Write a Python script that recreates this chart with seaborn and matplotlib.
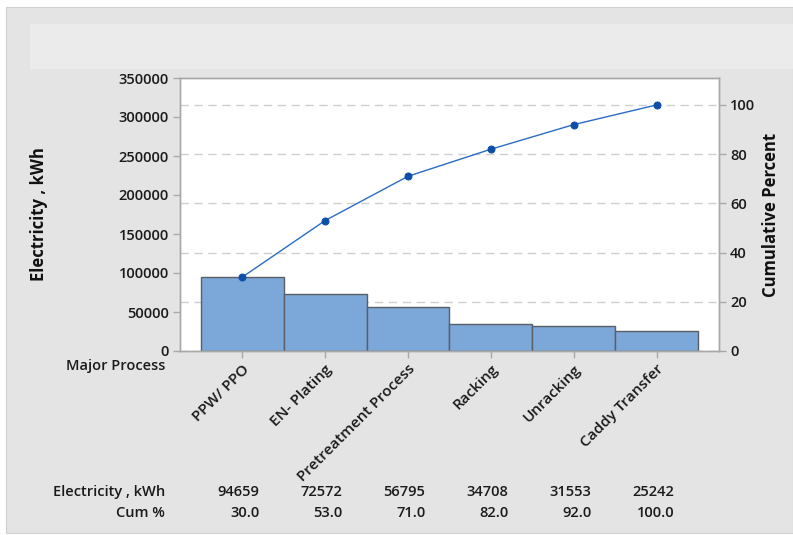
import numpy as np
import pandas as pd
import matplotlib
matplotlib.use("Agg")
import matplotlib.pyplot as plt
import matplotlib.transforms as mtransforms
from matplotlib.patches import Rectangle
import seaborn as sns

categories = ["PPW/ PPO", "EN- Plating", "Pretreatment Process", "Racking", "Unracking", "Caddy Transfer"]
electricity = [94659, 72572, 56795, 34708, 31553, 25242]
cum_pct = [30.0, 53.0, 71.0, 82.0, 92.0, 100.0]
left_ticks = [0, 50000, 100000, 150000, 200000, 250000, 300000, 350000]
right_ticks = [0, 20, 40, 60, 80, 100]

sns.set_theme(style="white")
plt.rcParams['font.family'] = ['Open Sans', 'DejaVu Sans']

TXT = "#1a1a1a"
FW = "semibold"

df = pd.DataFrame({"Major Process": categories, "Electricity": electricity})
total = sum(electricity)
cum_exact = list(np.cumsum(electricity) / total * 100)

W, H = 793, 535
fig = plt.figure(figsize=(W / 100, H / 100), dpi=100)
fig.patch.set_facecolor("white")
fig.patches.append(Rectangle((6 / W, 1 - 533 / H), 1 - 6 / W, (533 - 7) / H,
                             transform=fig.transFigure, facecolor="#e4e4e4",
                             edgecolor="#d0d0d0", lw=0.8, zorder=-10))
fig.patches.append(Rectangle((30 / W, 1 - 69 / H), 1 - 30 / W, (69 - 24) / H,
                             transform=fig.transFigure, facecolor="#ebebeb",
                             edgecolor="none", zorder=-9))

ax = fig.add_axes([180 / W, 1 - 351 / H, (719 - 180) / W, (351 - 78) / H])
ax.set_facecolor("white")
sns.barplot(data=df, x="Major Process", y="Electricity", ax=ax, width=1.0,
            color="#7ba7d9", saturation=1, edgecolor="#5a5f66", linewidth=1.0, zorder=2)
ax.set_xlim(-0.75, len(categories) - 0.25)
ax.set_ylim(0, 350000)
ax.set_yticks(left_ticks)
ax.set_yticklabels([str(t) for t in left_ticks], fontsize=10.5, color=TXT, fontweight=FW)
for p in right_ticks:
    ax.axhline(p / 100 * total, color="#cfcfcf", lw=1.0, ls=(0, (6, 4)), zorder=1)
ax.set_xticks(range(len(categories)))
ax.set_xticklabels(categories, rotation=45, ha="right", rotation_mode="anchor",
                   fontsize=11, color=TXT, fontweight=FW)
ax.set_xlabel("")
ax.set_ylabel("Electricity , kWh", fontsize=12, fontweight="bold", color="#111111")
ax.yaxis.set_label_coords((48 - 180) / 539, 0.5)
for s in ax.spines.values():
    s.set_color("#a8a8a8")
    s.set_linewidth(1.0)
ax.tick_params(axis="both", which="both", length=5, color="#a8a8a8", width=1.0, direction="out",
               left=True, bottom=True, pad=3)

ax2 = ax.twinx()
ax2.set_ylim(0, 350000 / total * 100)
sns.lineplot(x=np.arange(len(categories)), y=cum_exact, ax=ax2, color="#2b6cc4",
             lw=1.0, marker="o", markersize=5, markerfacecolor="#0d4fa8",
             markeredgecolor="#0d4fa8", zorder=5)
ax2.set_yticks(right_ticks)
ax2.set_yticklabels([str(t) for t in right_ticks], fontsize=10.5, color=TXT, fontweight=FW)
ax2.set_ylabel("Cumulative Percent", fontsize=12, fontweight="bold", color="#111111")
ax2.yaxis.set_label_coords((762 - 180) / 539, 0.5)
for s in ax2.spines.values():
    s.set_color("#a8a8a8")
    s.set_linewidth(1.0)
ax2.tick_params(axis="y", length=5, color="#a8a8a8", width=1.0, direction="out", right=True, pad=3)
ax2.grid(False)

fig.text(165 / W, 1 - 366 / H, "Major Process", ha="right", va="center", fontsize=10.5,
         color=TXT, fontweight=FW)

trans = mtransforms.blended_transform_factory(ax.transData, fig.transFigure)
fig.text(165 / W, 1 - 492 / H, "Electricity , kWh", ha="right", va="center", fontsize=10.5,
         color=TXT, fontweight=FW)
fig.text(165 / W, 1 - 513 / H, "Cum %", ha="right", va="center", fontsize=10.5,
         color=TXT, fontweight=FW)
for i, (e, c) in enumerate(zip(electricity, cum_pct)):
    ax.text(i + 0.21, 1 - 492 / H, f"{e}", transform=trans, ha="right", va="center",
            fontsize=10.5, color=TXT, fontweight=FW)
    ax.text(i + 0.21, 1 - 513 / H, f"{c:.1f}", transform=trans, ha="right", va="center",
            fontsize=10.5, color=TXT, fontweight=FW)

fig.savefig("out.png", dpi=100)
